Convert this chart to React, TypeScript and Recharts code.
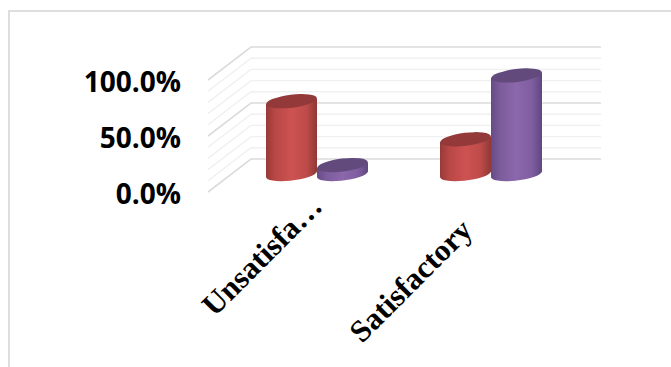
import React from 'react';
import { BarChart, Bar, XAxis, YAxis, CartesianGrid } from 'recharts';

const categories = ['Unsatisfa…', 'Satisfactory'];
const redValues = [65, 31];
const purpleValues = [8, 88];
const axisTicks = [0, 50, 100];
const gridValues = [0, 10, 20, 30, 40, 50, 60, 70, 80, 90, 100];
const labelShift = [[7, 26], [-17, 50]];

const rows = categories.map((name, i) => ({ name, red: redValues[i], purple: purpleValues[i] }));

const PLOT_BOTTOM = 174;
const PLOT_HEIGHT = 112;
const FRONT_DX = -22;
const FRONT_DY = 18;
const BACK_DX = 21;
const BACK_DY = -15;
const RIGHT_DX = 23;

// Gridline folded along the side wall and the back wall of the 3D plot box.
function WallLine(props: any) {
  const { x1, x2, y1 } = props;
  const level = Math.round(((PLOT_BOTTOM - y1) / PLOT_HEIGHT) * 100);
  const major = level % 50 === 0;
  return (
    <polyline
      points={`${x1 + FRONT_DX},${y1 + FRONT_DY} ${x1 + BACK_DX},${y1 + BACK_DY} ${x2 + RIGHT_DX},${y1 + BACK_DY}`}
      fill="none"
      stroke={major ? '#dcdcdc' : '#f0f0f0'}
      strokeWidth={major ? 1.6 : 1.4}
    />
  );
}

// Tilted cylinder: the body uses a horizontal shading gradient, the cap a flat darker tone.
function Cylinder(props: any) {
  const { x, y, width, height, gradient, cap } = props;
  const rx = width / 2;
  const ry = 6.5;
  const tilt = -7;
  const lift = 2.6;
  const cx = x + rx;
  const bottom = y + height;
  const d = [
    `M${x},${y + lift}`,
    `L${x},${bottom + lift}`,
    `A${rx},${ry} ${tilt} 0 0 ${x + width},${bottom - lift}`,
    `L${x + width},${y - lift}`,
    'Z',
  ].join(' ');
  return (
    <g>
      <path d={d} fill={`url(#${gradient})`} />
      <ellipse cx={cx} cy={y} rx={rx} ry={ry} fill={cap} transform={`rotate(${tilt} ${cx} ${y})`} />
    </g>
  );
}

function ValueTick(props: any) {
  const { y, payload } = props;
  return (
    <text
      x={181}
      y={y + FRONT_DY + 1}
      textAnchor="end"
      dominantBaseline="central"
      fontFamily="'Open Sans', sans-serif"
      fontWeight={700}
      fontSize={28}
      fill="#000"
    >
      {`${Number(payload.value).toFixed(1)}%`}
    </text>
  );
}

function CategoryTick(props: any) {
  const { x, y, payload, index } = props;
  const [dx, dy] = labelShift[index] ?? [0, 0];
  const px = x + dx;
  const py = y + dy;
  return (
    <text
      x={px}
      y={py}
      textAnchor="end"
      transform={`rotate(-45 ${px} ${py})`}
      fontFamily="'Liberation Serif', serif"
      fontWeight={700}
      fontSize={31}
      fill="#000"
    >
      {payload.value}
    </text>
  );
}

export default function App() {
  return (
    <div style={{ position: 'absolute', left: 0, top: 0, width: 671, height: 367, background: '#fff' }}>
      <div
        style={{
          position: 'absolute',
          left: 8,
          top: 10,
          width: 663,
          height: 357,
          boxSizing: 'border-box',
          borderLeft: '2px solid #dedede',
          borderTop: '2px solid #dedede',
        }}
      />
      <div style={{ position: 'absolute', left: 0, top: 0 }}>
        <BarChart
          width={671}
          height={367}
          data={rows}
          barGap={0}
          barSize={51}
          margin={{ top: 62, right: 93, bottom: 0, left: 100 }}
        >
          <defs>
            <linearGradient id="redBody" x1="0" y1="0" x2="1" y2="0">
              <stop offset="0" stopColor="#983a38" />
              <stop offset="0.18" stopColor="#b84745" />
              <stop offset="0.5" stopColor="#cd5352" />
              <stop offset="0.8" stopColor="#bd4b49" />
              <stop offset="1" stopColor="#8f3836" />
            </linearGradient>
            <linearGradient id="purpleBody" x1="0" y1="0" x2="1" y2="0">
              <stop offset="0" stopColor="#654b86" />
              <stop offset="0.18" stopColor="#7c5c9b" />
              <stop offset="0.5" stopColor="#8b67ac" />
              <stop offset="0.8" stopColor="#7f5e9f" />
              <stop offset="1" stopColor="#5f4780" />
            </linearGradient>
          </defs>
          <CartesianGrid horizontal={<WallLine />} vertical={false} horizontalValues={gridValues} />
          <XAxis
            dataKey="name"
            axisLine={false}
            tickLine={false}
            interval={0}
            tick={<CategoryTick />}
            height={193}
          />
          <YAxis
            width={130}
            domain={[0, 100]}
            ticks={axisTicks}
            axisLine={false}
            tickLine={false}
            tick={<ValueTick />}
            interval={0}
            orientation="left"
          />
          <Bar dataKey="red" isAnimationActive={false} shape={<Cylinder gradient="redBody" cap="#93393a" />} />
          <Bar dataKey="purple" isAnimationActive={false} shape={<Cylinder gradient="purpleBody" cap="#634a7d" />} />
        </BarChart>
      </div>
    </div>
  );
}
